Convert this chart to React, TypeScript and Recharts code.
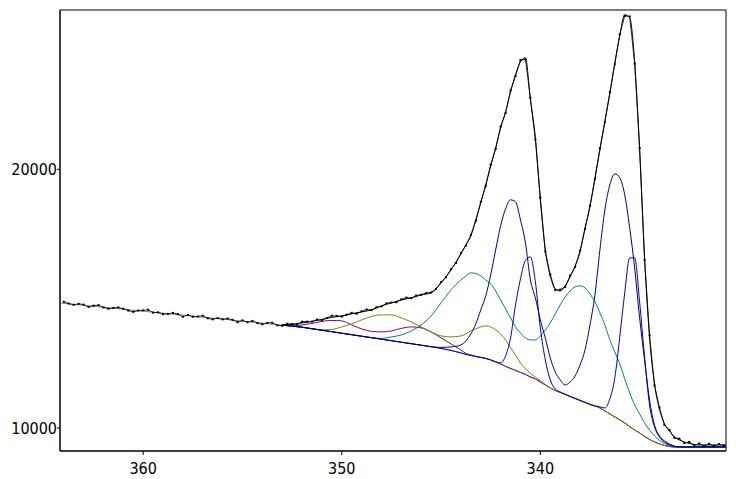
import React from 'react';
import { ComposedChart, Line, XAxis, YAxis, ReferenceArea } from 'recharts';

// binding energy grid of the fit (eV)
const fitEnergy = [
  364.19, 353, 352.5, 352, 351.5, 351, 350.5, 350, 349.5, 349, 348.5, 348, 347.5, 347, 346.5, 346, 345.5, 345, 344.5, 344,
  343.75, 343.5, 343.25, 343, 342.75, 342.5, 342.25, 342, 341.75, 341.5, 341.25, 341, 340.75, 340.5, 340.25, 340,
  339.75, 339.5, 339.25, 339, 338.75, 338.5, 338.25, 338, 337.75, 337.5, 337.25, 337, 336.75, 336.5, 336.25, 336,
  335.75, 335.5, 335.25, 335, 334.75, 334.5, 334.25, 334, 333.75, 333.5, 333.25, 333, 332.5, 332, 331.5, 331, 330.65,
];

// Shirley background (counts)
const background = [
  14836, 13977, 13938, 13896, 13838, 13780, 13722, 13664, 13606, 13548, 13490, 13432, 13374, 13316, 13258, 13200, 13142, 13076, 12999, 12902,
  12844, 12805, 12766, 12728, 12689, 12631, 12554, 12477, 12380, 12302, 12225, 12148, 12070, 11974, 11896, 11780,
  11664, 11548, 11451, 11374, 11297, 11219, 11142, 11065, 10987, 10910, 10852, 10775, 10659, 10543, 10427, 10311,
  10195, 10059, 9924, 9808, 9672, 9556, 9460, 9382, 9324, 9286, 9266, 9266, 9266, 9266, 9266, 9266, 9266,
];

// component heights above background (counts)
const navyDoublet = [
  null, 0, 0, 0, 0, 0, 0, 0, 0, 0, 0, 0, 0, 0, 0, 0, 0, 39, 135, 309,
  522, 832, 1257, 1837, 2418, 3288, 4332, 5338, 6092, 6518, 6518, 5899, 5086, 3752, 3133, 2398,
  1818, 1160, 716, 484, 367, 561, 870, 1373, 2031, 3075, 4293, 6111, 7775, 8858, 9399, 9360,
  8819, 7678, 6266, 4448, 2959, 1528, 658, 309, 174, 97, 39, 0, 0, 0, 0, 0, 0,
];
const blueDoublet = [
  null, 0, 0, 0, 0, 0, 0, 0, 0, 0, 0, 0, 0, 0, 0, 0, 0, 0, 0, 0,
  0, 0, 0, 0, 0, 0, 0, 39, 406, 1180, 2534, 3617, 4410, 4642, 3752, 2089,
  967, 309, 58, 19, 0, 0, 0, 0, 0, 0, 0, 39, 116, 580, 1509, 3210,
  5028, 6518, 6653, 5067, 3075, 1334, 580, 271, 135, 58, 19, 0, 0, 0, 0, 0, 0,
];
const tealDoublet = [
  null, 0, 0, 0, 0, 0, 0, 0, 0, 0, 0, 31, 147, 282, 495, 785, 1191, 1760, 2340, 2824,
  3036, 3191, 3210, 3152, 3036, 2940, 2746, 2476, 2224, 1953, 1683, 1528, 1412, 1431, 1509, 1779,
  2127, 2514, 2959, 3385, 3771, 4081, 4313, 4429, 4429, 4274, 4023, 3675, 3326, 2862, 2514, 2166,
  1702, 1296, 967, 735, 522, 367, 232, 135, 77, 39, 19, 0, 0, 0, 0, 0, 0,
];
const oliveDoublet = [
  null, 0, 0, 0, 0, 12, 89, 244, 418, 630, 824, 940, 998, 940, 843, 708, 572, 484, 522, 658,
  793, 948, 1064, 1180, 1257, 1276, 1238, 1160, 1025, 793, 600, 367, 232, 135, 77, 39,
  19, 0, 0, 0, 0, 0, 0, 0, 0, 0, 0, 0, 0, 0, 0, 0,
  0, 0, 0, 0, 0, 0, 0, 0, 0, 0, 0, 0, 0, 0, 0, 0, 0,
];
const purpleDoublet = [
  null, 0, 8, 89, 205, 340, 437, 476, 379, 282, 244, 282, 379, 534, 650, 669, 572, 406, 251, 116,
  39, 19, 0, 0, 0, 0, 0, 0, 0, 0, 0, 0, 0, 0, 0, 0,
  0, 0, 0, 0, 0, 0, 0, 0, 0, 0, 0, 0, 0, 0, 0, 0,
  0, 0, 0, 0, 0, 0, 0, 0, 0, 0, 0, 0, 0, 0, 0, 0, 0,
];

// fit envelope (counts)
const envelope = [
  null, 13980, 14005, 14063, 14121, 14198, 14276, 14333, 14411, 14488, 14565, 14720, 14836, 14952, 15029, 15145, 15223, 15610, 16112, 16731,
  17080, 17428, 18046, 18704, 19398, 20135, 20831, 21605, 22224, 22997, 23655, 24160, 24313, 22688, 21218, 18820,
  16886, 15880, 15377, 15300, 15493, 15841, 16267, 16809, 17737, 18549, 19671, 20754, 21876, 22920, 24119, 25164,
  25976, 25860, 24158, 20754, 16577, 13521, 11703, 10736, 10156, 9885, 9653, 9537, 9401, 9343, 9343, 9343, 9343,
];

// measured counts, 364.00 eV down in 0.25 eV steps
const rawStart = 364;
const rawStep = 0.25;
const rawCounts = [
  14880, 14810, 14760, 14800, 14770, 14680, 14730, 14750, 14660, 14610, 14640, 14660, 14610, 14540, 14490, 14540,
  14550, 14570, 14460, 14470, 14400, 14410, 14450, 14400, 14300, 14370, 14300, 14310, 14340, 14240, 14200, 14250,
  14200, 14230, 14180, 14090, 14160, 14090, 14140, 14060, 14010, 14060, 14070, 13970,
  13950, 14030, 14020, 14000, 14110, 14110, 14110, 14190, 14160, 14250, 14340, 14330, 14310, 14380, 14450, 14420,
  14510, 14580, 14560, 14670, 14700, 14820, 14850, 14860, 14970, 15040, 15020, 15120, 15150, 15220, 15240, 15380,
  15640, 15830, 16140, 16380, 16760, 17050, 17460, 18010, 18740, 19360, 20180, 20790, 21650, 22180, 23050, 23610,
  24230, 24250, 22760, 21150, 18900, 16820, 15930, 15330, 15350, 15450, 15890, 16220, 16860, 17690, 18600, 19620,
  20810, 21820, 22980, 24060, 25220, 25930, 25910, 24090, 20830, 16500, 13580, 11650, 10780, 10120, 9920, 9620,
  9590, 9420, 9460, 9330, 9400, 9300, 9390, 9300, 9380, 9320,
];

const xTicks = [340, 350, 360];
const yTicks = [10000, 20000];

const components = [
  { key: 'purple', height: purpleDoublet, color: '#800080' },
  { key: 'olive', height: oliveDoublet, color: '#808000' },
  { key: 'teal', height: tealDoublet, color: '#008080' },
  { key: 'blue', height: blueDoublet, color: '#0000cd' },
  { key: 'navy', height: navyDoublet, color: '#000080' },
];

const buildRows = () => {
  const rows = new Map<string, any>();
  const row = (e: number) => {
    const k = e.toFixed(2);
    if (!rows.has(k)) rows.set(k, { be: e });
    return rows.get(k);
  };
  fitEnergy.forEach((e, i) => {
    const r = row(e);
    r.bg = background[i];
    if (envelope[i] != null) r.env = envelope[i];
    components.forEach((c) => {
      if (c.height[i] != null) r[c.key] = background[i] + (c.height[i] as number);
    });
  });
  rawCounts.forEach((v, i) => {
    row(rawStart - i * rawStep).raw = v;
  });
  return Array.from(rows.values()).sort((a, b) => b.be - a.be);
};

const data = buildRows();

const RawDot = (p: any) => {
  if (p.cx == null || p.cy == null || p.value == null) return <g key={p.index} />;
  return <rect key={p.index} x={p.cx - 1} y={p.cy - 1} width={2} height={2} fill="#000" />;
};

const tickFont = { fontFamily: "'DejaVu Sans Condensed', 'Liberation Sans', sans-serif", fontSize: 16, fill: '#000' };

export default function App() {
  return (
    <div style={{ position: 'absolute', left: 0, top: 0, background: '#fff' }}>
      <ComposedChart width={736} height={479} data={data} margin={{ top: 10, right: 10, bottom: 0, left: 0 }}>
        <XAxis
          dataKey="be"
          type="number"
          domain={[330.65, 364.19]}
          reversed
          allowDataOverflow
          ticks={xTicks}
          tick={tickFont}
          tickSize={4}
          tickMargin={8}
          height={28}
          stroke="#000"
        />
        <YAxis
          type="number"
          domain={[9110, 26160]}
          allowDataOverflow
          ticks={yTicks}
          tick={tickFont}
          tickSize={3}
          tickMargin={0}
          width={60}
          stroke="#000"
        />
        <ReferenceArea x1={330.65} x2={364.19} y1={9110} y2={26160} fill="none" stroke="#000" strokeWidth={1} />
        <Line dataKey="bg" type="monotone" stroke="#808080" strokeWidth={1} dot={false} connectNulls isAnimationActive={false} />
        {components.map((c) => (
          <Line key={c.key} dataKey={c.key} type="monotone" stroke={c.color} strokeWidth={1} dot={false} connectNulls isAnimationActive={false} />
        ))}
        <Line dataKey="env" type="monotone" stroke="#000" strokeWidth={1} dot={false} connectNulls isAnimationActive={false} />
        <Line dataKey="raw" type="linear" stroke="#000" strokeWidth={0.8} dot={RawDot} connectNulls isAnimationActive={false} />
      </ComposedChart>
    </div>
  );
}
